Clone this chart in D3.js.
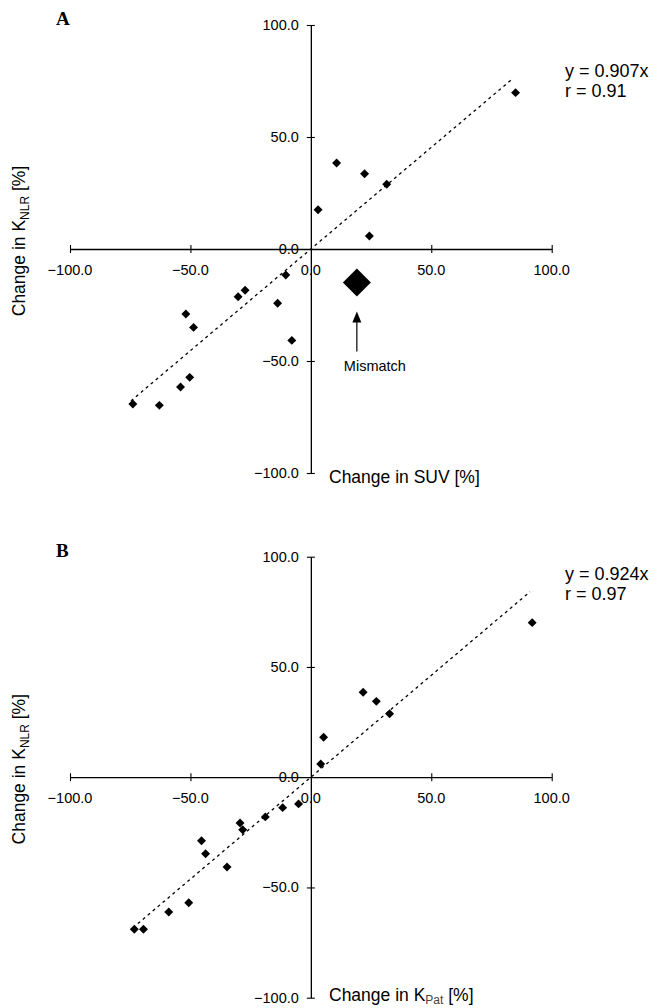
<!DOCTYPE html>
<html>
<head>
<meta charset="utf-8">
<script src="https://cdn.jsdelivr.net/npm/d3@7"></script>
<style>
  body { margin: 0; background: #fff; }
  svg { display: block; }
  text { font-family: "Liberation Sans", Arial, sans-serif; fill: #000; }
  text.letter { font-family: "Liberation Serif", "Times New Roman", serif; font-weight: bold; }
</style>
</head>
<body>
<svg id="fig" width="655" height="1008"></svg>
<script>
(function() {

  // ---- data ----
  var ticks = [-100, -50, 0, 50, 100];

  // panel A: change in SUV vs change in K_NLR
  var suvA = [85.0, 10.7, 22.3, 31.5, 3.0, 24.3, -10.4, -30.2, -27.3, -13.8, -7.9, -51.9, -48.7, -50.3, -54.1, -73.9, -62.9];
  var knlrA = [69.8, 38.4, 33.6, 28.9, 17.5, 5.8, -11.6, -21.3, -18.4, -24.2, -40.8, -29.0, -35.0, -57.3, -61.6, -69.2, -69.8];
  var mismatchA = [19.1, -14.9];
  var trendAx = [-74.7, 83.3];
  var trendAy = [-67.8, 75.6];
  var eqA = ["y = 0.907x", "r = 0.91"];

  // panel B: change in K_Pat vs change in K_NLR
  var kpatB = [91.9, 21.7, 27.2, 32.7, 5.3, 4.1, -5.1, -11.7, -18.9, -29.4, -28.3, -45.4, -43.7, -34.8, -50.7, -59.0, -73.3, -69.5];
  var knlrB = [70.1, 38.5, 34.4, 28.8, 18.1, 6.0, -12.1, -13.8, -18.0, -20.8, -23.8, -28.8, -34.7, -40.7, -56.9, -61.1, -69.0, -69.0];
  var trendBx = [-73.9, 91.0];
  var trendBy = [-68.3, 84.1];
  var eqB = ["y = 0.924x", "r = 0.97"];

  var svg = d3.select("#fig");
  var fmt = d3.format(".1f");
  var diamond = d3.symbol().type(d3.symbolSquare);

  function drawPanel(cfg) {
    var x = d3.scaleLinear().domain([-100, 100]).range([70, 551.7]);
    var y = d3.scaleLinear().domain([-100, 100]).range(cfg.yRange);
    var g = svg.append("g");

    // axes cross at zero, ticks cross the line
    var xAxis = g.append("g")
        .attr("transform", "translate(0," + y(0) + ")")
        .call(d3.axisBottom(x).tickValues(ticks).tickSize(4).tickSizeOuter(0).tickFormat(""));
    xAxis.select(".domain").attr("stroke-width", 1.3);
    xAxis.selectAll(".tick line").attr("y1", -4).attr("stroke-width", 1.1)
        .filter(function(d) { return d === 0; }).remove();

    var yAxis = g.append("g")
        .attr("transform", "translate(" + x(0) + ",0)")
        .call(d3.axisLeft(y).tickValues(ticks).tickSize(4).tickSizeOuter(0).tickFormat(""));
    yAxis.select(".domain").attr("stroke-width", 1.3);
    yAxis.selectAll(".tick line").attr("x1", 4).attr("stroke-width", 1.1)
        .filter(function(d) { return d === 0; }).remove();

    g.selectAll(".xlab")
      .data(ticks)
      .enter().append("text")
        .attr("x", function(d) { return x(d); })
        .attr("y", y(0) + 26)
        .attr("text-anchor", "middle")
        .attr("font-size", 14.5)
        .text(function(d) { return fmt(d); });

    g.selectAll(".ylab")
      .data(ticks)
      .enter().append("text")
        .attr("x", x(0) - 12)
        .attr("y", function(d) { return y(d) + 5; })
        .attr("text-anchor", "end")
        .attr("font-size", 14.5)
        .text(function(d) { return fmt(d); });

    // regression line
    g.append("line")
        .attr("x1", x(cfg.tx[0])).attr("y1", y(cfg.ty[0]))
        .attr("x2", x(cfg.tx[1])).attr("y2", y(cfg.ty[1]))
        .attr("stroke", "#000")
        .attr("stroke-width", 1.3)
        .attr("stroke-dasharray", "3,3.5");

    g.selectAll(".pt")
      .data(d3.range(cfg.xs.length))
      .enter().append("path")
        .attr("d", diamond.size(40))
        .attr("transform", function(i) {
          return "translate(" + x(cfg.xs[i]) + "," + y(cfg.ys[i]) + ") rotate(45)";
        })
        .attr("fill", "#000");

    // panel letter
    g.append("text")
        .attr("class", "letter")
        .attr("x", 56)
        .attr("y", y(100))
        .attr("font-size", 19)
        .text(cfg.letter);

    // equation
    g.selectAll(".eq")
      .data(cfg.eq)
      .enter().append("text")
        .attr("x", 565)
        .attr("y", function(d, i) { return cfg.eqY + i * 19.5; })
        .attr("font-size", 18)
        .text(function(d) { return d; });

    // y title
    var yt = g.append("text")
        .attr("transform", "translate(25," + (y(0) - 8) + ") rotate(-90)")
        .attr("text-anchor", "middle")
        .attr("font-size", 17.5);
    yt.append("tspan").text("Change in K");
    yt.append("tspan").attr("font-size", 12).attr("dy", 4).text("NLR");
    yt.append("tspan").attr("dy", -4).text(" [%]");

    // x title
    var xt = g.append("text")
        .attr("x", 329)
        .attr("y", y(-100) + cfg.xtOff)
        .attr("font-size", 17.5);
    xt.append("tspan").text(cfg.xTitle[0]);
    if (cfg.xTitle[1]) {
      xt.append("tspan").attr("font-size", 12).attr("dy", 3).attr("fill", "#444").text(cfg.xTitle[1]);
      xt.append("tspan").attr("dy", -3).text(cfg.xTitle[2]);
    }

    return {x: x, y: y, g: g};
  }

  var A = drawPanel({
    letter: "A", yRange: [473, 25], xs: suvA, ys: knlrA,
    tx: trendAx, ty: trendAy, eq: eqA, eqY: 77,
    xTitle: ["Change in SUV [%]"], xtOff: 10
  });

  // mismatch point + arrow
  var mx = A.x(mismatchA[0]), my = A.y(mismatchA[1]);
  A.g.append("path")
      .attr("d", diamond.size(392))
      .attr("transform", "translate(" + mx + "," + my + ") rotate(45)")
      .attr("fill", "#000");
  A.g.append("line")
      .attr("x1", mx).attr("x2", mx)
      .attr("y1", my + 38).attr("y2", my + 69)
      .attr("stroke", "#000")
      .attr("stroke-width", 1.2);
  A.g.append("path")
      .attr("d", "M" + mx + "," + (my + 29) + "L" + (mx - 4.5) + "," + (my + 40) + "L" + (mx + 4.5) + "," + (my + 40) + "Z")
      .attr("fill", "#000");
  A.g.append("text")
      .attr("x", mx - 13)
      .attr("y", my + 89)
      .attr("font-size", 14.5)
      .text("Mismatch");

  drawPanel({
    letter: "B", yRange: [997.7, 556.7], xs: kpatB, ys: knlrB,
    tx: trendBx, ty: trendBy, eq: eqB, eqY: 580,
    xTitle: ["Change in K", "Pat", " [%]"], xtOff: 3
  });

})();
</script>
</body>
</html>
